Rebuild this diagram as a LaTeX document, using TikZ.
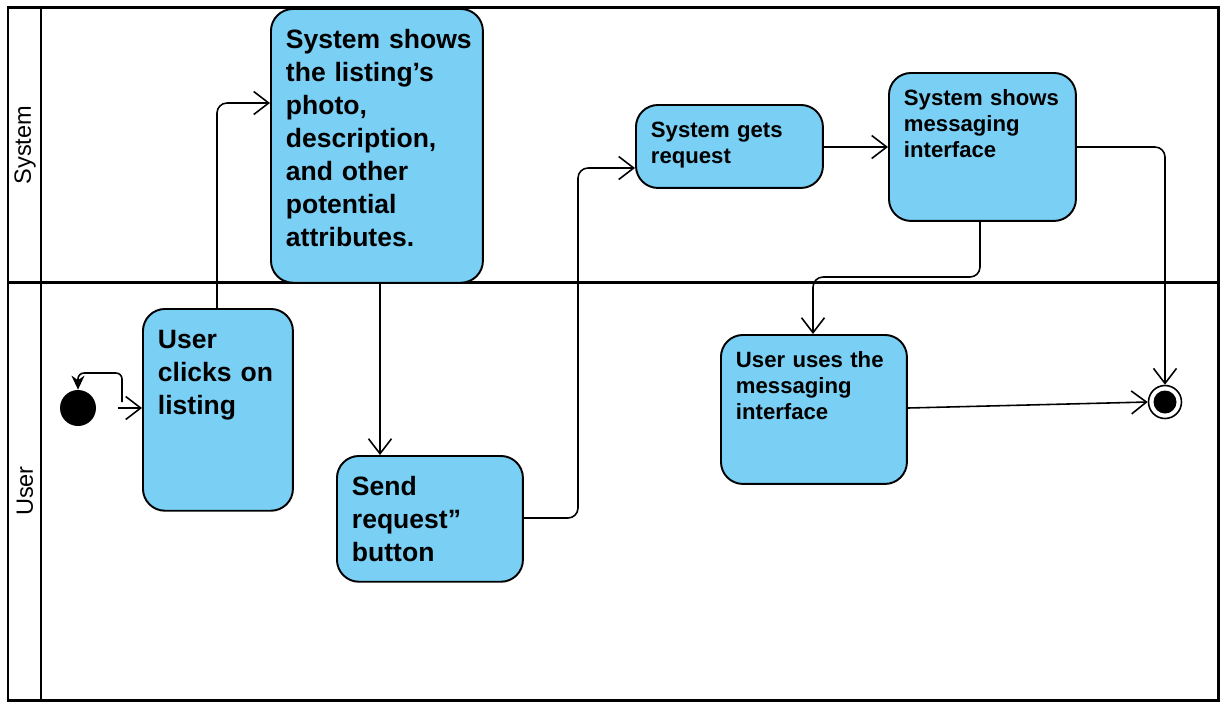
\documentclass[tikz,border=0pt]{standalone}
\usepackage{fontspec}
\setmainfont{Liberation Sans}
\usetikzlibrary{arrows.meta}
\definecolor{actblue}{HTML}{7ACFF5}
\tikzstyle{act} = [draw, line width=1.1pt, fill=actblue, rounded corners=0.44cm, anchor=north west, align=left, inner xsep=0.3cm, font=\bfseries]
\tikzstyle{big} = [inner ysep=0.42cm, text height=0.376cm, font=\fontsize{15.1}{18.8}\selectfont\bfseries]
\tikzstyle{small} = [inner ysep=0.34cm, text height=0.31cm, font=\fontsize{12.6}{14.9}\selectfont\bfseries]
\tikzstyle{flow} = [-{Straight Barb[length=0.3cm,width=0.46cm]}, line width=0.9pt, rounded corners=0.2cm]
\tikzstyle{lane} = [rotate=90, font=\fontsize{13.4}{15}\selectfont]

\begin{document}
\begin{tikzpicture}[x=0.02cm, y=-0.02cm]
	  \useasboundingbox (0,0) rectangle (1225,708);
	  % swimlanes
	  \draw [line width=1.7pt] (8,7) rectangle (1218,700);
	  \draw [line width=1.3pt] (41,7) -- (41,700);
	  \draw [line width=1.7pt] (8,282) -- (1218,282);
	  \node (sys) at (25,145) [lane] {System};
	  \node (usr) at (25,491) [lane] {User};

	  % activities
	  \node (click) at (142,308) [act, big, text width=2.4cm, text depth=2.82cm] {User\\clicks~on\\listing};
	  \node (show) at (270,8) [act, big, text width=3.64cm, text depth=4.26cm] {System~shows\\the~listing’s\\photo,\\description,\\and~other\\potential\\attributes.};
	  \node (send) at (336,455) [act, big, text width=3.12cm, text depth=1.3cm] {Send\\request”\\button};
	  \node (gets) at (635,104) [act, small, text width=3.14cm, text depth=0.67cm] {System~gets\\request};
	  \node (msg) at (888,72) [act, small, text width=3.14cm, text depth=1.97cm] {System~shows\\messaging\\interface};
	  \node (use) at (720,334) [act, small, text width=3.12cm, text depth=1.99cm] {User~uses~the\\messaging\\interface};

	  % start and end
	  \node (start) at (78,408) [circle, fill=black, minimum size=0.72cm, inner sep=0pt] {};
	  \node (stop) at (1165,402) [circle, draw, line width=0.9pt, minimum size=0.66cm, inner sep=0pt] {};
	  \node (stopin) at (1165,402) [circle, fill=black, minimum size=0.46cm, inner sep=0pt] {};
	  \coordinate (loop) at (122,402);

	  \draw [flow] (start.east) ++(0.44cm,0) -- (click.west |- start);
	  \draw [-{Stealth[length=0.28cm,width=0.26cm]}, line width=0.9pt, rounded corners=0.12cm] (loop) |- (start.north |- 0,373) -- (start.north);
	  \draw [flow] (click.north -| 217,0) |- (show.west |- 0,103);
	  \draw [flow] (show.south -| 380,0) -- (send.north -| 380,0);
	  \draw [flow] (send.east |- 0,518) -| (578,168) -- (gets.west |- 0,168);
	  \draw [flow] (gets.east |- 0,147) -- (msg.west |- 0,147);
	  \draw [flow] (msg.south -| 980,0) |- (813,277) -- (use.north -| 813,0);
	  \draw [flow] (msg.east |- 0,147) -| (stop.north);
	  \draw [flow] (use.east |- 0,408) -- (stop.west);
\end{tikzpicture}
\end{document}
